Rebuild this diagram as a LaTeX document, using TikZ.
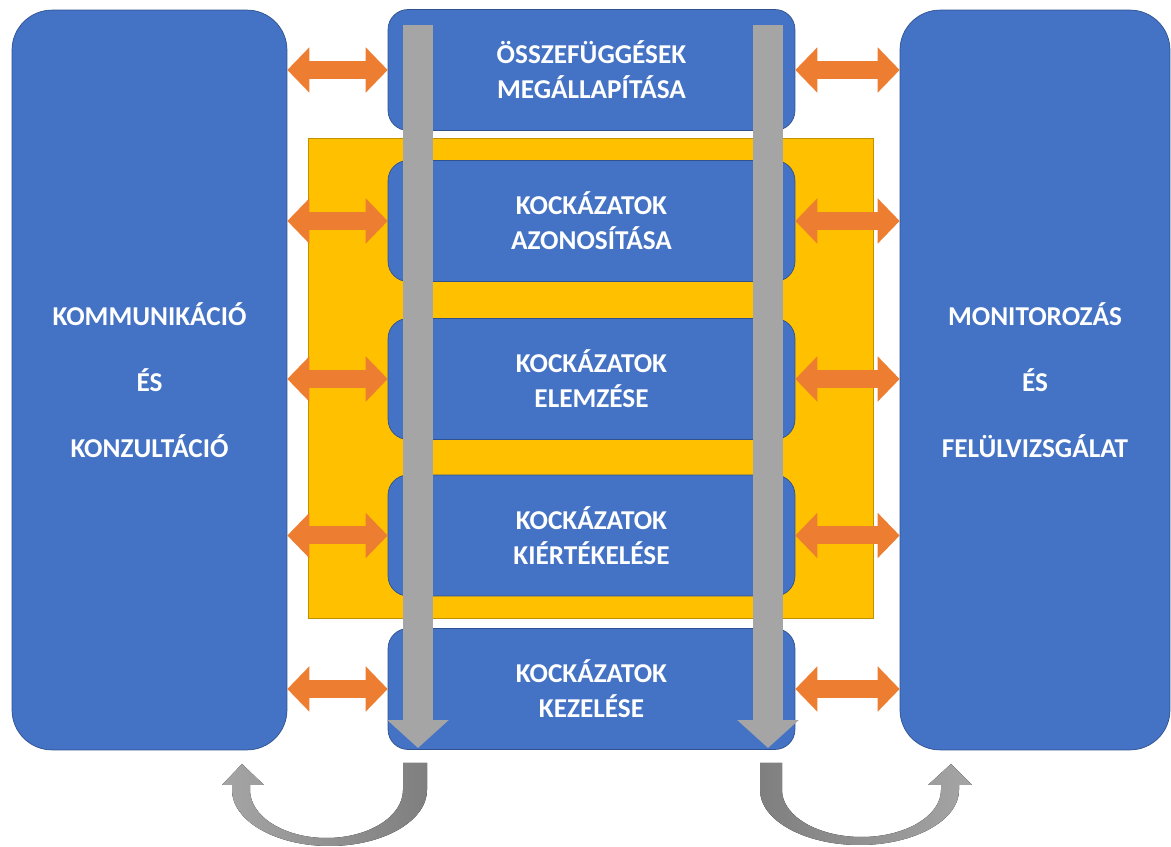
\documentclass[tikz,border=0pt]{standalone}
\usepackage{fontspec}
\setmainfont{Carlito}
\usetikzlibrary{arrows.meta}
\definecolor{kek}{HTML}{4472C4}
\definecolor{kekvonal}{HTML}{2F528F}
\definecolor{sarga}{HTML}{FFC000}
\definecolor{sargavonal}{HTML}{BF9000}
\definecolor{narancs}{HTML}{ED7D31}
\definecolor{szurke}{HTML}{A5A5A5}
\definecolor{sotetszurke}{HTML}{7F7F7F}

\begin{document}
\begin{tikzpicture}[x=0.02cm,y=-0.02cm,
    oszlop/.style={draw=kekvonal,fill=kek,text=white,rounded corners=0.8cm,
        minimum height=14.8cm,align=center,inner sep=0pt,
        font=\bfseries\fontsize{15.5}{37.4}\selectfont},
    lepes/.style={draw=kekvonal,fill=kek,text=white,rounded corners=0.4cm,
        minimum width=8.14cm,minimum height=2.42cm,align=center,inner sep=0pt,
        font=\bfseries\fontsize{15.5}{19.8}\selectfont},
    kapcsolat/.style={narancs,line width=0.36cm,
        {Triangle[length=0.44cm,width=0.88cm]}-{Triangle[length=0.44cm,width=0.88cm]}},
    lefele/.style={szurke,line width=0.6cm,-{Triangle[length=0.56cm,width=1.2cm]}}]
    \useasboundingbox (0,0) rectangle (1171,847);

    % oldalso oszlopok
    \node[oszlop,minimum width=5.5cm] (kom) at (149.5,380)
        {KOMMUNIKÁCIÓ\\ÉS\\KONZULTÁCIÓ};
    \node[oszlop,minimum width=5.4cm] (mon) at (1035,380)
        {MONITOROZÁS\\ÉS\\FELÜLVIZSGÁLAT};

    % kockazatertekeles hattere
    \draw[draw=sargavonal,fill=sarga] (308,138) rectangle (873,618);

    % folyamat lepesei
    \node[lepes] (b1) at (591.5,70)    {ÖSSZEFÜGGÉSEK\\MEGÁLLAPÍTÁSA};
    \node[lepes] (b2) at (591.5,221)   {KOCKÁZATOK\\AZONOSÍTÁSA};
    \node[lepes] (b3) at (591.5,379)   {KOCKÁZATOK\\ELEMZÉSE};
    \node[lepes] (b4) at (591.5,535.5) {KOCKÁZATOK\\KIÉRTÉKELÉSE};
    \node[lepes] (b5) at (591.5,689)   {KOCKÁZATOK\\KEZELÉSE};

    \draw[kapcsolat] (kom.east |- b1) -- (b1.west);
    \draw[kapcsolat] (kom.east |- b2) -- (b2.west);
    \draw[kapcsolat] (kom.east |- b3) -- (b3.west);
    \draw[kapcsolat] (kom.east |- b4) -- (b4.west);
    \draw[kapcsolat] (kom.east |- b5) -- (b5.west);
    \draw[kapcsolat] (b1.east) -- (mon.west |- b1);
    \draw[kapcsolat] (b2.east) -- (mon.west |- b2);
    \draw[kapcsolat] (b3.east) -- (mon.west |- b3);
    \draw[kapcsolat] (b4.east) -- (mon.west |- b4);
    \draw[kapcsolat] (b5.east) -- (mon.west |- b5);

    % lefele mutato nyilak
    \coordinate (bf) at (418,25);
    \coordinate (ba) at (418,748);
    \coordinate (jf) at (768,25);
    \coordinate (ja) at (768,748);
    \draw[lefele] (bf) -- (ba);
    \draw[lefele] (jf) -- (ja);

    % visszacsatolo ivek
    \fill[left color=szurke,right color=sotetszurke]
        (427,763) -- (427,790)
        arc[start angle=0,end angle=180,x radius=97.5,y radius=56]
        -- (232,785) -- (222,785) -- (242,764) -- (264,785) -- (250,785)
        -- (250,790)
        arc[start angle=180,end angle=0,x radius=76.5,y radius=48]
        -- (403,763) -- cycle;
    \fill[left color=sotetszurke,right color=szurke]
        (760,763) -- (760,790)
        arc[start angle=180,end angle=0,x radius=99.5,y radius=55]
        -- (959,785) -- (972,785) -- (951,764) -- (928,785) -- (941,785)
        -- (941,790)
        arc[start angle=0,end angle=180,x radius=79.5,y radius=47]
        -- (782,763) -- cycle;
\end{tikzpicture}
\end{document}
